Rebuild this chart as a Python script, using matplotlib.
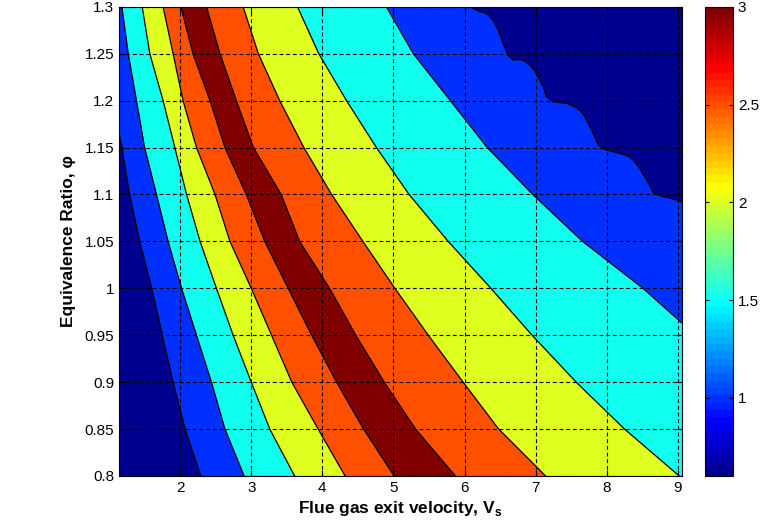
import numpy as np
import matplotlib
matplotlib.use("Agg")
import matplotlib.pyplot as plt
from matplotlib.colors import ListedColormap, Normalize
from matplotlib.cm import ScalarMappable

plt.rcParams['font.family'] = ['Liberation Sans', 'DejaVu Sans']
plt.rcParams['mathtext.fontset'] = 'custom'
plt.rcParams['mathtext.rm'] = 'Liberation Sans'
plt.rcParams['mathtext.bf'] = 'Liberation Sans:bold'

# colour limits and contour levels
zmin, zmax = 0.6, 3.0
levels = [1.0, 1.5, 2.0, 2.5, 3.0]

# equivalence ratio rows where the contour crossings were read
phi = [0.80, 0.85, 0.90, 0.95, 1.00, 1.05, 1.10, 1.15, 1.20, 1.25, 1.30]

# velocity where each level is crossed, left branch (low Vs side)
left_10 = [2.29, 2.07, 1.90, 1.75, 1.60, 1.43, 1.29, 1.18, 1.05, 0.93, 0.81]
left_15 = [2.90, 2.63, 2.44, 2.23, 2.02, 1.83, 1.667, 1.50, 1.386, 1.27, 1.18]
left_20 = [3.61, 3.26, 3.00, 2.745, 2.51, 2.28, 2.09, 1.925, 1.76, 1.573, 1.466]
left_25 = [4.32, 3.94, 3.57, 3.285, 3.00, 2.70, 2.49, 2.23, 2.04, 1.90, 1.76]
left_30 = [5.01, 4.58, 4.20, 3.85, 3.52, 3.19, 2.93, 2.63, 2.42, 2.18, 2.01]

# right branch (high Vs side)
right_30 = [5.87, 5.31, 4.87, 4.47, 4.10, 3.68, 3.42, 3.03, 2.79, 2.56, 2.37]
right_25 = [7.14, 6.48, 5.98, 5.49, 5.02, 4.57, 4.13, 3.74, 3.40, 3.10, 2.886]
right_20 = [9.02, 8.25, 7.57, 6.95, 6.37, 5.77, 5.22, 4.76, 4.34, 3.95, 3.65]
right_15 = [11.3, 10.6, 9.9, 9.25, 8.51, 7.66, 6.96, 6.32, 5.80, 5.28, 4.90]

# the 1.0 contour in the upper right corner (scalloped edge), bottom to top
right_10_v = [10.5, 9.5, 9.052, 8.982, 8.887, 8.793, 8.653, 8.616, 8.560, 8.466,
              8.371, 8.301, 8.184, 7.997, 7.879, 7.833, 7.762, 7.692, 7.622,
              7.551, 7.435, 7.246, 7.153, 7.115, 7.059, 6.989, 6.918, 6.848,
              6.778, 6.684, 6.613, 6.543, 6.473, 6.402, 6.309, 6.216, 6.075]
right_10_phi = [0.80, 1.05, 1.0923, 1.0941, 1.0962, 1.0976, 1.1018, 1.1082,
                1.1154, 1.1278, 1.1367, 1.1409, 1.1438, 1.1473, 1.1527, 1.1615,
                1.1722, 1.1828, 1.1899, 1.1935, 1.1971, 1.1988, 1.2041, 1.2130,
                1.2219, 1.2318, 1.2379, 1.2421, 1.2439, 1.2432, 1.2485, 1.2610,
                1.2752, 1.2858, 1.2930, 1.2947, 1.3000]

xticks = [2, 3, 4, 5, 6, 7, 8, 9]
yticks = [0.8, 0.85, 0.9, 0.95, 1.0, 1.05, 1.1, 1.15, 1.2, 1.25, 1.3]
yticklabels = ['0.8', '0.85', '0.9', '0.95', '1', '1.05', '1.1', '1.15', '1.2', '1.25', '1.3']
cticks = [1, 1.5, 2, 2.5, 3]
cticklabels = ['1', '1.5', '2', '2.5', '3']


def matlab_jet(n=64):
    # same construction as MATLAB's jet.m
    m = int(np.ceil(n / 4))
    u = np.r_[np.arange(1, m + 1) / m, np.ones(m - 1), np.arange(m, 0, -1) / m]
    g = int(np.ceil(m / 2)) - int(n % 4 == 1) + np.arange(1, len(u) + 1)
    r = g + m
    b = g - m
    J = np.zeros((n, 3))
    gg = g[g <= n]
    rr = r[r <= n]
    bb = b[b >= 1]
    J[rr - 1, 0] = u[:len(rr)]
    J[gg - 1, 1] = u[:len(gg)]
    J[bb - 1, 2] = u[len(u) - len(bb):]
    return J


jet = matlab_jet(64)
cmap = ListedColormap(jet)
norm = Normalize(vmin=zmin, vmax=zmax)


def level_color(v):
    i = int((v - zmin) / (zmax - zmin) * 64)
    return jet[min(max(i, 0), 63)]


fig = plt.figure(figsize=(7.81, 5.26), dpi=100)
ax = fig.add_axes([0.1524, 0.0951, 0.7205, 0.892])
ax.set_facecolor(level_color(zmin))

bands = [
    (levels[0], left_10, phi, right_10_v, right_10_phi),
    (levels[1], left_15, phi, right_15, phi),
    (levels[2], left_20, phi, right_20, phi),
    (levels[3], left_25, phi, right_25, phi),
    (levels[4], left_30, phi, right_30, phi),
]
for lev, lx, ly, rx, ry in bands:
    # left branch upwards, then right branch downwards
    xs = list(lx) + list(rx)[::-1]
    ys = list(ly) + list(ry)[::-1]
    ax.fill(xs, ys, color=level_color(lev), lw=0, zorder=1)
    ax.plot(lx, ly, color='k', lw=0.9, zorder=2)
    ax.plot(rx, ry, color='k', lw=0.9, zorder=2)

ax.set_xlim(1.14, 9.055)
ax.set_ylim(0.8, 1.3)
ax.set_xticks(xticks)
ax.set_yticks(yticks)
ax.set_yticklabels(yticklabels)
ax.set_axisbelow(False)
ax.grid(True, color='k', linestyle=(0, (3.5, 2.5)), linewidth=0.8)
ax.tick_params(direction='in', top=True, right=True, length=4, labelsize=11,
               colors='k')
for s in ax.spines.values():
    s.set_linewidth(0.8)

ax.set_xlabel('Flue gas exit velocity, V$_{\\mathbf{s}}$', fontsize=12.5,
              fontweight='bold', labelpad=3)
ax.set_ylabel('Equivalence Ratio, \u03c6', fontsize=12.5, fontweight='bold',
              labelpad=6)

cax = fig.add_axes([0.9027, 0.0951, 0.0359, 0.892])
cb = fig.colorbar(ScalarMappable(norm=norm, cmap=cmap), cax=cax, ticks=cticks)
cb.ax.set_yticklabels(cticklabels)
cb.ax.tick_params(direction='in', left=True, right=True, length=3, labelsize=11)
cb.outline.set_linewidth(0.8)

fig.savefig('out.png', dpi=100)
